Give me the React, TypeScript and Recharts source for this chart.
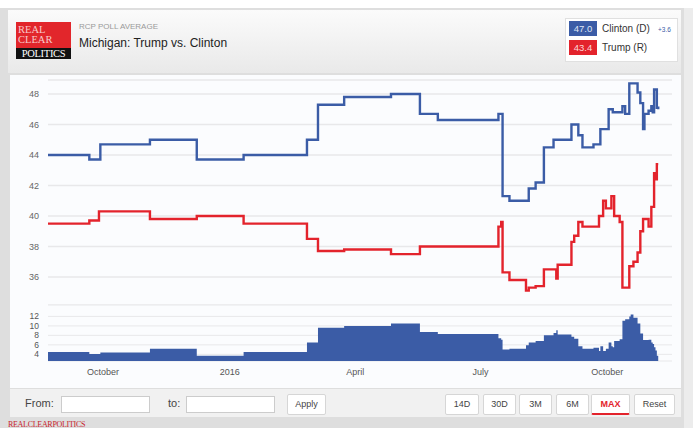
import { Area, AreaChart, CartesianGrid, Line, LineChart, XAxis, YAxis } from "recharts";

const dates = [
  "2015-08-22", "2015-09-21", "2015-09-28", "2015-09-29", "2015-11-04", "2015-12-08", "2016-01-11",
  "2016-02-26", "2016-03-05", "2016-03-24", "2016-04-27", "2016-05-18", "2016-05-31", "2016-07-14",
  "2016-07-16", "2016-07-17", "2016-07-22", "2016-08-03", "2016-08-05", "2016-08-10", "2016-08-16",
  "2016-08-23", "2016-08-25", "2016-08-26", "2016-09-05", "2016-09-07", "2016-09-10", "2016-09-13",
  "2016-09-21", "2016-09-25", "2016-09-26", "2016-09-28", "2016-09-30", "2016-10-02", "2016-10-04",
  "2016-10-05", "2016-10-06", "2016-10-10", "2016-10-12", "2016-10-14", "2016-10-17", "2016-10-18",
  "2016-10-20", "2016-10-23", "2016-10-25", "2016-10-27", "2016-10-28", "2016-10-31", "2016-11-02",
  "2016-11-03", "2016-11-04", "2016-11-05", "2016-11-06", "2016-11-07",
];
const clinton = [
  44.0, 43.7, 43.7, 44.7, 45.0, 43.7, 44.0,
  45.0, 47.3, 47.8, 48.0, 46.7, 46.3, 46.7,
  46.7, 41.3, 41.0, 41.0, 41.8, 42.2, 44.5,
  45.0, 45.0, 45.0, 46.0, 46.0, 45.3, 44.5,
  44.7, 44.7, 45.7, 45.7, 45.7, 47.0, 47.0,
  46.8, 46.8, 46.8, 47.2, 46.7, 48.7, 48.7,
  48.7, 48.1, 47.4, 45.7, 46.7, 46.9, 47.2,
  46.8, 48.3, 48.3, 47.1, 47.0,
];
const trump = [
  39.5, 39.7, 40.3, 40.3, 39.8, 40.0, 39.5,
  38.5, 37.7, 37.8, 37.5, 38.0, 38.0, 39.3,
  39.6, 36.3, 35.8, 35.1, 35.3, 35.4, 36.5,
  36.5, 35.9, 36.8, 38.3, 38.7, 39.6, 39.3,
  39.3, 40.0, 40.0, 41.0, 40.5, 40.5, 41.3,
  41.3, 40.0, 39.6, 35.3, 35.3, 36.7, 36.7,
  37.0, 37.6, 39.0, 39.8, 39.8, 39.3, 40.6,
  40.6, 42.8, 42.4, 43.4, 43.4,
];
const spread = [
  4.5, 4.1, 4.1, 4.4, 5.2, 3.7, 4.5,
  6.5, 9.6, 10.0, 10.5, 8.7, 8.3, 7.4,
  7.1, 5.0, 5.2, 5.9, 6.5, 6.8, 8.0,
  8.5, 9.1, 8.2, 7.7, 7.3, 5.7, 5.2,
  5.4, 4.7, 5.7, 4.7, 5.2, 6.5, 5.7,
  5.5, 6.8, 7.2, 11.1, 11.4, 12.0, 12.4,
  11.7, 10.5, 8.4, 7.0, 7.0, 7.1, 6.5,
  6.2, 5.5, 4.8, 3.7, 3.6,
];

// x ticks: days counted from 1 Oct 2015
const tickDays = [0, 92, 183, 274, 366];
const tickLabels = ["October", "2016", "April", "July", "October"];
const yTicks = [36, 38, 40, 42, 44, 46, 48];
const spreadTicks = [4, 6, 8, 10, 12];

const BLUE = "#3b5ca6";
const RED = "#e3232c";
const FONT = '"Liberation Sans", Arial, sans-serif';

const origin = Date.UTC(2015, 9, 1);
const toDay = (s: string) => {
  const [y, m, d] = s.split("-").map(Number);
  return (Date.UTC(y, m - 1, d) - origin) / 86400000;
};

const rows = dates.map((d, i) => ({ t: toDay(d), clinton: clinton[i], trump: trump[i], spread: spread[i] }));
const xDomain = [-40, 413];
const tickFmt = (v: number) => tickLabels[tickDays.indexOf(v)] ?? "";

const btn = (label: string, x: number, w: number, active = false) => (
  <div
    key={label}
    style={{
      position: "absolute", left: x, top: 394, width: w, height: 21, boxSizing: "border-box",
      background: "#fff", border: "1px solid #d6d6d6", borderRadius: 2,
      borderBottom: active ? `2px solid ${RED}` : "1px solid #d6d6d6",
      fontSize: 9, lineHeight: "19px", textAlign: "center",
      color: active ? RED : "#444", fontWeight: active ? 700 : 400,
    }}
  >
    {label}
  </div>
);

export default function App() {
  return (
    <div style={{ position: "absolute", left: 0, top: 0, width: 693, height: 428, background: "#fff", overflow: "hidden", fontFamily: FONT }}>
      {/* frame */}
      <div style={{ position: "absolute", left: 0, top: 8, width: 684, height: 420, background: "#dedede" }} />
      <div style={{ position: "absolute", left: 684, top: 8, width: 9, height: 420, background: "#ececec" }} />
      {/* header */}
      <div style={{ position: "absolute", left: 8, top: 10, width: 673, height: 63, background: "linear-gradient(#fbfbfb, #e9e9e9)" }} />
      <div style={{ position: "absolute", left: 16, top: 22, width: 55, height: 26, background: "#e2262b", color: "#f8caca", fontFamily: "'Liberation Serif', serif", fontSize: 10.5, lineHeight: "10px", paddingLeft: 2, paddingTop: 3, boxSizing: "border-box" }}>
        REAL<br />CLEAR
      </div>
      <div style={{ position: "absolute", left: 16, top: 48, width: 55, height: 11, background: "#111", color: "#fff", fontFamily: "'Liberation Serif', serif", fontSize: 10.5, lineHeight: "11px", textAlign: "center", letterSpacing: -0.3 }}>
        POLITICS
      </div>
      <div style={{ position: "absolute", left: 79, top: 22, fontSize: 8, color: "#9a9a9a" }}>RCP POLL AVERAGE</div>
      <div style={{ position: "absolute", left: 79, top: 36, fontSize: 12, color: "#222" }}>Michigan: Trump vs. Clinton</div>

      {/* legend box */}
      <div style={{ position: "absolute", left: 565, top: 18, width: 113, height: 44, background: "#fff", border: "1px solid #e0e0e0", boxSizing: "border-box" }} />
      <div style={{ position: "absolute", left: 569, top: 21, width: 28, height: 15, background: BLUE, color: "#dfe6f5", fontSize: 9.5, lineHeight: "15px", textAlign: "center" }}>47.0</div>
      <div style={{ position: "absolute", left: 602, top: 22, fontSize: 10, lineHeight: "13px", color: "#333" }}>Clinton (D)</div>
      <div style={{ position: "absolute", left: 658, top: 23, fontSize: 6.5, lineHeight: "13px", color: BLUE }}>+3.6</div>
      <div style={{ position: "absolute", left: 569, top: 40, width: 28, height: 15, background: RED, color: "#fbd7d7", fontSize: 9.5, lineHeight: "15px", textAlign: "center" }}>43.4</div>
      <div style={{ position: "absolute", left: 602, top: 41, fontSize: 10, lineHeight: "13px", color: "#333" }}>Trump (R)</div>

      {/* chart panel */}
      <div style={{ position: "absolute", left: 10, top: 75, width: 671, height: 313, background: "#fbfcfe" }} />

      <div style={{ position: "absolute", left: 0, top: 75 }}>
        <LineChart width={693} height={230} data={rows} margin={{ top: 5, right: 21, bottom: 0, left: 0 }}>
          <CartesianGrid vertical={false} stroke="#e8e8ea" strokeWidth={1.5} />
          <XAxis type="number" dataKey="t" domain={xDomain} ticks={tickDays} allowDataOverflow height={0} tick={false} tickLine={false} axisLine={{ stroke: "#c8c8c8", strokeWidth: 2 }} />
          <YAxis domain={[34.16, 48.92]} ticks={yTicks} interval={0} allowDataOverflow width={48} tickLine={false} axisLine={false} tickSize={0} tickMargin={9} tick={{ fill: "#666", fontSize: 9 }} />
          <Line type="stepAfter" dataKey="clinton" stroke={BLUE} strokeWidth={2.4} dot={false} activeDot={false} isAnimationActive={false} />
          <Line type="stepAfter" dataKey="trump" stroke={RED} strokeWidth={2.4} dot={false} activeDot={false} isAnimationActive={false} />
        </LineChart>
      </div>

      <div style={{ position: "absolute", left: 0, top: 305 }}>
        <AreaChart width={693} height={85} data={rows} margin={{ top: 0, right: 21, bottom: 5, left: 0 }}>
          <CartesianGrid vertical={false} stroke="#e8e8ea" strokeWidth={1} />
          <XAxis type="number" dataKey="t" domain={xDomain} ticks={tickDays} interval={0} allowDataOverflow height={24} tickFormatter={tickFmt} tickLine={false} axisLine={false} tickSize={0} tickMargin={8} tick={{ fill: "#555", fontSize: 9 }} />
          <YAxis domain={[2.6, 14.4]} ticks={spreadTicks} interval={0} allowDataOverflow width={48} tickLine={false} axisLine={false} tickSize={0} tickMargin={9} tick={{ fill: "#555", fontSize: 8.5 }} />
          <Area type="stepAfter" dataKey="spread" stroke="none" fill={BLUE} fillOpacity={1} dot={false} activeDot={false} isAnimationActive={false} />
        </AreaChart>
      </div>

      {/* controls */}
      <div style={{ position: "absolute", left: 10, top: 389, width: 671, height: 28, background: "#f1f1f1" }} />
      <div style={{ position: "absolute", left: 25, top: 397, fontSize: 11, color: "#444" }}>From:</div>
      <div style={{ position: "absolute", left: 61, top: 396, width: 87, height: 15, background: "#fff", border: "1px solid #ccc" }} />
      <div style={{ position: "absolute", left: 168, top: 397, fontSize: 11, color: "#444" }}>to:</div>
      <div style={{ position: "absolute", left: 186, top: 396, width: 87, height: 15, background: "#fff", border: "1px solid #ccc" }} />
      {btn("Apply", 287, 39)}
      {btn("14D", 445, 34)}
      {btn("30D", 483, 33)}
      {btn("3M", 519, 33)}
      {btn("6M", 556, 33)}
      {btn("MAX", 591, 39, true)}
      {btn("Reset", 634, 41)}
      <div style={{ position: "absolute", left: 8, top: 420, fontSize: 8, color: "#c8232c", fontFamily: "'Liberation Serif', serif", letterSpacing: -0.3 }}>REALCLEARPOLITICS</div>
    </div>
  );
}
